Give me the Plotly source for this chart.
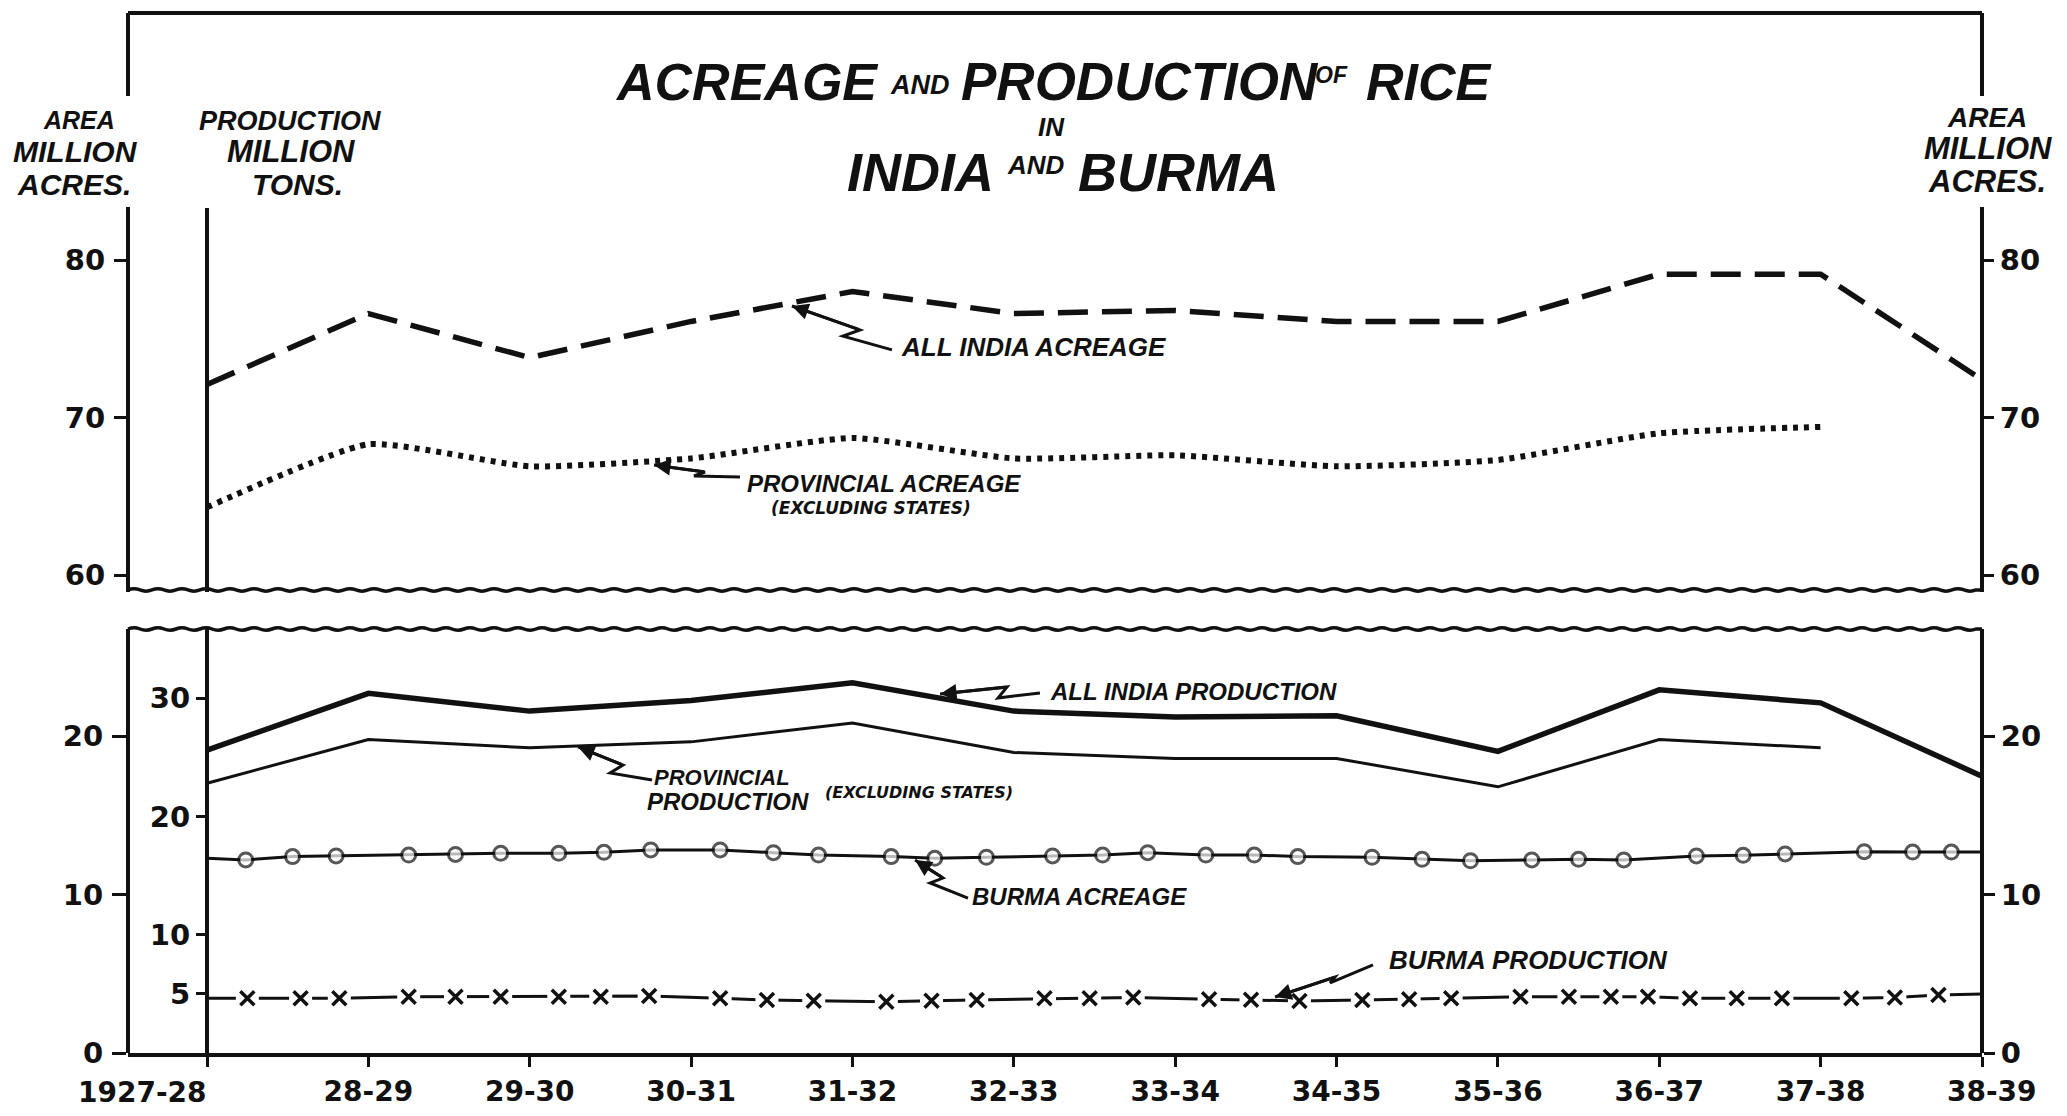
import plotly.graph_objects as go

# ---------------- data ----------------
years = ["1927-28", "28-29", "29-30", "30-31", "31-32", "32-33",
         "33-34", "34-35", "35-36", "36-37", "37-38", "38-39"]
year_idx = list(range(len(years)))

# million acres
all_india_acreage = [72.1, 76.6, 73.8, 76.1, 78.0, 76.6, 76.8, 76.1, 76.1, 79.1, 79.1, 72.4]
provincial_acreage = [64.3, 68.3, 66.9, 67.4, 68.7, 67.4, 67.6, 66.9, 67.3, 69.0, 69.4, None]
# million tons
all_india_production = [25.6, 30.4, 28.9, 29.8, 31.3, 28.9, 28.4, 28.5, 25.5, 30.7, 29.6, 23.4]
provincial_production = [22.8, 26.5, 25.8, 26.3, 27.9, 25.4, 24.9, 24.9, 22.5, 26.5, 25.8, None]

# Burma acreage (million acres) - plotted points along the line (year index)
burma_acreage_x = [0, 0.24, 0.53, 0.80, 1.25, 1.54, 1.82, 2.18, 2.46, 2.75, 3.18, 3.51,
                   3.79, 4.24, 4.51, 4.83, 5.24, 5.55, 5.83, 6.19, 6.49, 6.76, 7.22,
                   7.53, 7.83, 8.21, 8.50, 8.78, 9.23, 9.52, 9.78, 10.27, 10.57, 10.81, 11]
burma_acreage = [12.28, 12.18, 12.39, 12.43, 12.49, 12.53, 12.60, 12.60, 12.66, 12.81,
                 12.81, 12.64, 12.49, 12.39, 12.28, 12.35, 12.43, 12.49, 12.64, 12.49,
                 12.49, 12.39, 12.35, 12.22, 12.13, 12.18, 12.22, 12.18, 12.43, 12.47,
                 12.56, 12.70, 12.68, 12.68, 12.68]

# Burma production (million tons)
burma_production_x = [0, 0.25, 0.58, 0.82, 1.25, 1.54, 1.82, 2.18, 2.44, 2.74, 3.18, 3.47,
                      3.76, 4.21, 4.49, 4.77, 5.19, 5.47, 5.74, 6.21, 6.47, 6.77, 7.16,
                      7.45, 7.71, 8.14, 8.44, 8.70, 8.93, 9.19, 9.48, 9.76, 10.19, 10.46,
                      10.73, 11]
burma_production = [4.62, 4.62, 4.62, 4.62, 4.76, 4.76, 4.76, 4.76, 4.76, 4.82, 4.62, 4.48,
                    4.42, 4.34, 4.42, 4.48, 4.62, 4.62, 4.70, 4.55, 4.50, 4.40, 4.48,
                    4.54, 4.62, 4.76, 4.76, 4.76, 4.76, 4.62, 4.62, 4.62, 4.62, 4.70,
                    4.90, 4.99]

area_ticks_top = [60, 70, 80]
area_ticks_bottom = [0, 10, 20]
prod_ticks = [5, 10, 20, 30]

# ---------------- geometry ----------------
W, H = 2067, 1116
X0_PX, X1_PX, INNER_PX = 128, 1982, 207
STEP = (X1_PX - INNER_PX) / 11.0
TOP_T, TOP_B = 13, 592
BOT_T, BOT_B = 629, 1053
TOP_SCALE = 15.75   # px per million acres (upper panel)
AREA_SCALE = 15.85  # px per million acres (lower panel)
PROD_SCALE = 11.83  # px per million tons


def px(x):
    return x / W


def py(y):
    return 1 - y / H


x_domain = [px(X0_PX), px(X1_PX)]
x_range = [-(INNER_PX - X0_PX) / STEP, 11]
top_range = [80 - (TOP_B - 260) / TOP_SCALE, 80 + (260 - TOP_T) / TOP_SCALE]
area_range = [0, (BOT_B - BOT_T) / AREA_SCALE]
prod_range = [0, (BOT_B - BOT_T) / PROD_SCALE]

BLACK = "#111111"
TICKFONT = dict(family="DejaVu Sans", size=29, color=BLACK, weight="bold")
XFONT = dict(family="DejaVu Sans", size=28, color=BLACK, weight="bold")
LBL = "Liberation Sans, Arial, sans-serif"

# first year label sits left of the inner axis (drawn as a text below), last one slightly right
tick_text = list(years)
tick_text[0] = ""
tick_text[-1] = "  " + years[-1]

fig = go.Figure()

# ---- upper panel ----
fig.add_trace(go.Scatter(x=year_idx, y=all_india_acreage, xaxis="x2", yaxis="y2",
                         mode="lines", line=dict(color=BLACK, width=5.5, dash="30px,14px"),
                         name="All India acreage", showlegend=False))
fig.add_trace(go.Scatter(x=year_idx, y=provincial_acreage, xaxis="x2", yaxis="y2",
                         mode="lines",
                         line=dict(color=BLACK, width=6, dash="5px,6px", shape="spline", smoothing=0.5),
                         name="Provincial acreage", showlegend=False))
fig.add_trace(go.Scatter(x=[None], y=[None], xaxis="x2", yaxis="y5", showlegend=False))

# ---- lower panel ----
fig.add_trace(go.Scatter(x=year_idx, y=all_india_production, xaxis="x", yaxis="y",
                         mode="lines", line=dict(color=BLACK, width=5.5),
                         name="All India production", showlegend=False))
fig.add_trace(go.Scatter(x=year_idx, y=provincial_production, xaxis="x", yaxis="y",
                         mode="lines", line=dict(color=BLACK, width=3),
                         name="Provincial production", showlegend=False))

n_ba = len(burma_acreage_x)
fig.add_trace(go.Scatter(x=burma_acreage_x, y=burma_acreage, xaxis="x", yaxis="y3",
                         mode="lines+markers", line=dict(color=BLACK, width=3),
                         marker=dict(symbol="circle", color="white",
                                     size=[0] + [14] * (n_ba - 2) + [0],
                                     line=dict(color=BLACK, width=3)),
                         name="Burma acreage", showlegend=False))
fig.add_trace(go.Scatter(x=[None], y=[None], xaxis="x", yaxis="y4", showlegend=False))

bp_mx = burma_production_x[1:-1]
bp_my = burma_production[1:-1]
fig.add_trace(go.Scatter(x=burma_production_x, y=burma_production, xaxis="x", yaxis="y",
                         mode="lines", line=dict(color=BLACK, width=3),
                         name="Burma production", showlegend=False))
fig.add_trace(go.Scatter(x=bp_mx, y=bp_my, xaxis="x", yaxis="y", mode="markers",
                         marker=dict(symbol="square", color="white", size=23, line=dict(width=0)),
                         showlegend=False, hoverinfo="skip"))
fig.add_trace(go.Scatter(x=bp_mx, y=bp_my, xaxis="x", yaxis="y", mode="markers",
                         marker=dict(symbol="x-thin", size=14, line=dict(color=BLACK, width=3.5)),
                         showlegend=False, hoverinfo="skip"))

# ---------------- axes ----------------
base_y = dict(ticks="outside", tickwidth=3, tickcolor=BLACK, showgrid=False,
              zeroline=False, tickfont=TICKFONT, linecolor=BLACK, linewidth=4,
              fixedrange=True, automargin=False)
outer_left = dict(base_y, ticklen=14, ticklabelstandoff=3)
inner_left = dict(base_y, ticklen=9, ticklabelstandoff=0)
right_side = dict(base_y, ticklen=11, ticklabelstandoff=0)

fig.update_layout(
    width=W, height=H, margin=dict(l=0, r=0, t=0, b=0, autoexpand=False),
    paper_bgcolor="white", plot_bgcolor="white", showlegend=False,
    xaxis=dict(domain=x_domain, range=x_range, anchor="y", tickmode="array",
               tickvals=year_idx, ticktext=tick_text, tickangle=0, ticks="outside",
               ticklen=10, tickwidth=3, tickcolor=BLACK, showline=True, linewidth=4,
               linecolor=BLACK, showgrid=False, zeroline=False, automargin=False,
               tickfont=XFONT, ticklabelstandoff=0, fixedrange=True),
    xaxis2=dict(domain=x_domain, range=x_range, anchor="y2", visible=False, automargin=False),
    yaxis=dict(domain=[py(BOT_B), py(BOT_T)], range=prod_range, anchor="free",
               position=px(INNER_PX), side="left", tickvals=prod_ticks, showline=True, **inner_left),
    yaxis3=dict(overlaying="y", range=area_range, anchor="free", position=px(X0_PX),
                side="left", tickvals=area_ticks_bottom, showline=True, **outer_left),
    yaxis4=dict(overlaying="y", range=area_range, anchor="free", position=px(X1_PX),
                side="right", tickvals=area_ticks_bottom, showline=True, **right_side),
    yaxis2=dict(domain=[py(TOP_B), py(TOP_T)], range=top_range, anchor="free",
                position=px(X0_PX), side="left", tickvals=area_ticks_top, showline=False, **outer_left),
    yaxis5=dict(overlaying="y2", range=top_range, anchor="free", position=px(X1_PX),
                side="right", tickvals=area_ticks_top, showline=False, **right_side),
)

# ---------------- frame (decoration) ----------------
shapes = []


def seg(x0, y0, x1, y1, w=4):
    shapes.append(dict(type="line", xref="paper", yref="paper", x0=px(x0), y0=py(y0),
                       x1=px(x1), y1=py(y1), line=dict(color=BLACK, width=w)))


seg(X0_PX, TOP_T, X1_PX, TOP_T)
seg(X0_PX, TOP_T, X0_PX, 96)
seg(X0_PX, 207, X0_PX, TOP_B)
seg(X1_PX, TOP_T, X1_PX, 96)
seg(X1_PX, 207, X1_PX, TOP_B)
seg(INNER_PX, 208, INNER_PX, TOP_B)


def wave(yc, period=24.0, amp=2.4):
    half = period / 2
    n = int((X1_PX - X0_PX) / half)
    d = f"M {px(X0_PX):.5f},{py(yc):.5f} Q {px(X0_PX + half / 2):.5f},{py(yc - amp):.5f} {px(X0_PX + half):.5f},{py(yc):.5f}"
    for k in range(2, n + 1):
        d += f" T {px(X0_PX + k * half):.5f},{py(yc):.5f}"
    d += f" L {px(X1_PX):.5f},{py(yc):.5f}"
    shapes.append(dict(type="path", xref="paper", yref="paper", path=d,
                       line=dict(color=BLACK, width=3.5)))


wave(590)
wave(629)


# leaders (lightning-style pointers) in data coordinates
def leader(pts, xr, yr):
    d = "M " + " L ".join(f"{a},{b}" for a, b in pts)
    shapes.append(dict(type="path", xref=xr, yref=yr, path=d, line=dict(color=BLACK, width=3)))


leaders = [
    ([(3.625, 77.08), (4.047, 75.56), (3.941, 75.17), (4.245, 74.29)], "x2", "y2"),
    ([(2.770, 66.98), (3.086, 66.54), (3.018, 66.29), (3.303, 66.22)], "x2", "y2"),
    ([(4.543, 30.35), (4.958, 30.94), (4.902, 30.01), (5.162, 30.43)], "x", "y"),
    ([(2.299, 25.87), (2.578, 24.34), (2.498, 23.67), (2.758, 23.08)], "x", "y"),
    ([(4.388, 16.31), (4.561, 14.79), (4.481, 14.37), (4.716, 13.10)], "x", "y"),
    ([(6.619, 4.73), (6.990, 6.42), (6.960, 5.92), (7.226, 7.44)], "x", "y"),
]
for pts, xr, yr in leaders:
    leader(pts, xr, yr)

fig.update_layout(shapes=shapes)

# ---------------- texts ----------------
ann = []
for pts, xr, yr in leaders:
    (tx, ty), (nx, ny) = pts[0], pts[1]
    ann.append(dict(x=tx, y=ty, ax=nx, ay=ny, xref=xr, yref=yr, axref=xr, ayref=yr,
                    text="", showarrow=True, arrowhead=2, arrowsize=1.1, arrowwidth=3,
                    arrowcolor=BLACK))


def ptext(t, x, y, size, fam=LBL, anchor="center"):
    ann.append(dict(x=px(x), y=py(y), xref="paper", yref="paper", text=f"<b><i>{t}</i></b>",
                    showarrow=False, xanchor=anchor, yanchor="middle",
                    font=dict(family=fam, size=size, color=BLACK)))


def dtext(t, x, y, size, xr, yr, fam=LBL):
    ann.append(dict(x=x, y=y, xref=xr, yref=yr, text=f"<b><i>{t}</i></b>", showarrow=False,
                    xanchor="left", yanchor="middle", font=dict(family=fam, size=size, color=BLACK)))


# first category label (placed left of the inner axis, as in the original)
ann.append(dict(x=px(142), y=py(1092), xref="paper", yref="paper", text=years[0],
                showarrow=False, xanchor="center", yanchor="middle", font=XFONT))

# title
ptext("ACREAGE", 746, 82, 52)
ptext("AND", 920, 85, 27)
ptext("PRODUCTION", 1140, 82, 53)
ptext("OF", 1331, 75, 23)
ptext("RICE", 1429, 82, 52)
ptext("IN", 1051, 127, 26)
ptext("INDIA", 920, 172, 54)
ptext("AND", 1036, 165, 26)
ptext("BURMA", 1178, 172, 54)

# axis titles
ptext("AREA", 79, 120, 25)
ptext("MILLION", 75, 151, 30)
ptext("ACRES.", 74, 184, 30)
ptext("PRODUCTION", 290, 121, 27)
ptext("MILLION", 291, 151, 31)
ptext("TONS.", 297, 184, 30)
ptext("AREA", 1987, 117, 28)
ptext("MILLION", 1988, 148, 31)
ptext("ACRES.", 1987, 181, 31)

# series labels
dtext("ALL INDIA ACREAGE", 4.29, 74.48, 26, "x2", "y2")
dtext("PROVINCIAL ACREAGE", 3.334, 65.84, 24, "x2", "y2")
dtext("(EXCLUDING STATES)", 3.48, 64.25, 17, "x2", "y2", "DejaVu Sans")
dtext("ALL INDIA PRODUCTION", 5.212, 30.52, 24, "x", "y")
dtext("PROVINCIAL", 2.758, 23.25, 22, "x", "y")
dtext("PRODUCTION", 2.714, 21.22, 24, "x", "y")
dtext("(EXCLUDING STATES)", 3.818, 22.06, 16, "x", "y", "DejaVu Sans")
dtext("BURMA ACREAGE", 4.729, 13.19, 24, "x", "y")
dtext("BURMA PRODUCTION", 7.313, 7.86, 26, "x", "y")

fig.update_layout(annotations=ann)

fig.write_html("out.html", include_plotlyjs=True, config={"displayModeBar": False},
               post_script="document.body.style.margin='0';document.body.style.overflow='hidden';")
